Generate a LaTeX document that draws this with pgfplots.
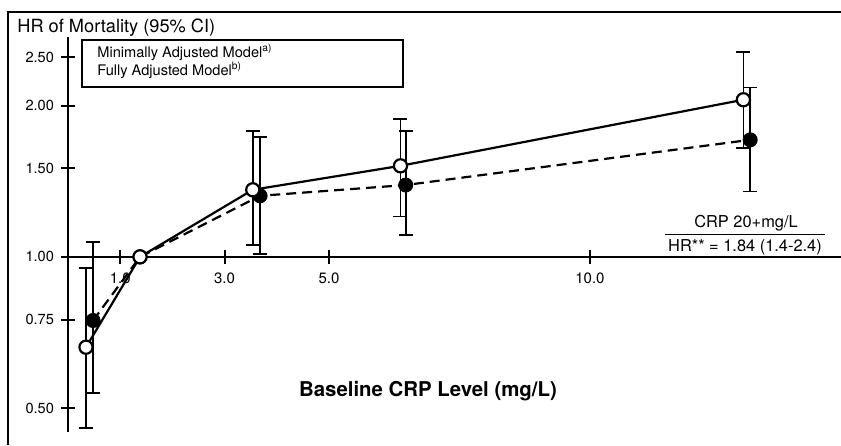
\documentclass[border=0pt]{standalone}
\usepackage{pgfplots}
\usepackage{pgfplotstable}
\pgfplotsset{compat=1.18}
\usepackage{fontspec}
\setmainfont{TeX Gyre Heros}

\pgfplotstableread{
x y ep em
0.345 0.661 0.289 0.205
3.54 1.36 0.42 0.303
6.37 1.518 0.362 0.315
12.94 2.055 0.502 0.406
}\minerr
\pgfplotstableread{
x y
0.345 0.661
1.38 1.00
3.54 1.36
6.37 1.518
12.94 2.055
}\minline
\pgfplotstableread{
x y ep em
0.48 0.747 0.323 0.211
3.68 1.323 0.41 0.309
6.47 1.39 0.39 0.284
13.07 1.71 0.465 0.36
}\fullerr
\pgfplotstableread{
x y
0.48 0.747
1.38 1.00
3.68 1.323
6.47 1.39
13.07 1.71
}\fullline

\begin{document}
\begin{tikzpicture}
\useasboundingbox (0pt,0pt) rectangle (420.5pt,222.5pt);
\begin{axis}[
  at={(34pt,6.5pt)}, anchor=south west,
  scale only axis, width=386.5pt, height=197.5pt,
  xmin=0, xmax=14.81, ymode=log, ymin=0.448, ymax=2.74,
  axis y line=left, axis x line=middle,
  axis line style={-, line width=1.1pt},
  every inner x axis line/.append style={-},
  every outer y axis line/.append style={-},
  xtick={1,3,5,10}, xticklabels={1.0,3.0,5.0,10.0},
  ytick={0.5,0.75,1,1.5,2,2.5}, yticklabels={0.50,0.75,1.00,1.50,2.00,2.50},
  minor tick num=0,
  tick align=center, major tick length=7pt,
  tick style={black, line width=1pt},
  xticklabel style={font=\fontsize{7.5}{8}\selectfont, yshift=-1pt},
  yticklabel style={font=\fontsize{7.3}{8}\selectfont},
  /pgf/number format/assume math mode=true,
  clip=false,
]
% error bars
\addplot[draw=none, mark=none, forget plot,
  error bars/.cd, y dir=both, y explicit,
  error bar style={draw=black, solid, line width=0.85pt},
  error mark options={draw=black, solid, rotate=90, mark size=3.5pt, line width=0.85pt}]
  table[x=x, y=y, y error plus=ep, y error minus=em]{\fullerr};
\addplot[draw=none, mark=none, forget plot,
  error bars/.cd, y dir=both, y explicit,
  error bar style={draw=black, solid, line width=0.85pt},
  error mark options={draw=black, solid, rotate=90, mark size=3.5pt, line width=0.85pt}]
  table[x=x, y=y, y error plus=ep, y error minus=em]{\minerr};
% lines
\addplot[black, line width=1.1pt, dash pattern=on 5pt off 3pt, mark=*, mark size=3.2pt,
  mark options={solid, fill=black}] table[x=x, y=y]{\fullline};
\addplot[black, line width=1.1pt, mark=*, mark size=3.3pt,
  mark options={solid, fill=white, line width=1.1pt}] table[x=x, y=y]{\minline};
\end{axis}
\begin{scope}[x=0.5pt,y=0.5pt]
% frame
\draw[line width=1pt] (8,0) -- (8,433) -- (842,433);
% title
\node[anchor=base west, inner sep=0pt, font=\fontsize{9.1}{10}\selectfont] at (17,412) {HR of Mortality (95\% CI)};
% legend box
\draw[line width=1pt] (82,405) rectangle (403,358);
\node[anchor=base west, inner sep=0pt, font=\fontsize{7.3}{8}\selectfont] at (97,387) {Minimally Adjusted Model\textsuperscript{a)}};
\node[anchor=base west, inner sep=0pt, font=\fontsize{7.3}{8}\selectfont] at (97,369) {Fully Adjusted Model\textsuperscript{b)}};
% x label
\node[anchor=base, inner sep=0pt, font=\bfseries\fontsize{10.2}{11}\selectfont] at (428,48.3) {Baseline CRP Level (mg/L)};
% annotation
\node[anchor=base, inner sep=0pt, font=\fontsize{8.2}{9}\selectfont] at (746,217) {CRP 20+mg/L};
\draw[line width=0.5pt] (665,210) -- (825,210);
\node[anchor=base, inner sep=0pt, font=\fontsize{8.2}{9}\selectfont] at (745,193) {HR** = 1.84 (1.4-2.4)};
\end{scope}
\end{tikzpicture}
\end{document}
